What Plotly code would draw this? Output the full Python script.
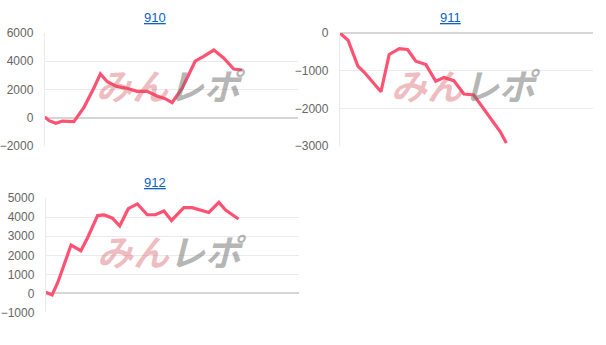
import plotly.graph_objects as go

# ---- data ----
titles = ["910", "911", "912"]

games_910 = [0, 140, 350, 560, 920, 1240, 1550, 1760, 1980, 2290, 2600, 2920, 3240, 3550,
             3810, 4030, 4350, 4760, 5030, 5350, 5660, 5980, 6240]
diff_910 = [50, -200, -380, -230, -270, 740, 2090, 3100, 2550, 2200, 2090, 1870, 1870, 1540,
            1350, 1080, 2090, 4000, 4340, 4790, 4230, 3450, 3380]

games_911 = [0, 200, 260, 570, 780, 1300, 1560, 1880, 2140, 2400, 2720, 3030, 3290, 3600,
             3920, 4230, 4760, 5070, 5260]
diff_911 = [0, -150, -195, -880, -1050, -1560, -570, -415, -440, -750, -840, -1280, -1180,
            -1265, -1620, -1645, -2280, -2620, -2920]

games_912 = [0, 200, 380, 800, 1110, 1320, 1640, 1850, 2110, 2340, 2610, 2900, 3210, 3470,
             3740, 3980, 4370, 4630, 5160, 5480, 5690, 6100]
diff_912 = [60, -80, 570, 2540, 2240, 2910, 4090, 4120, 3950, 3540, 4450, 4700, 4130, 4130,
            4330, 3830, 4500, 4500, 4250, 4780, 4380, 3910]

y_ranges = [[-2000, 6000], [-3000, 0], [-1000, 5000]]
y_dticks = [2000, 1000, 1000]
x_range = [0, 8000]

W, H = 606, 345
# plot areas in pixels (left, right, top, bottom)
areas = [(42, 296, 27, 145), (338.5, 593, 27, 145), (43, 297, 199.3, 318.3)]
cells = [(0, 305, 11), (300, 600, 11), (0, 305, 183)]

LINE = "#fe5272"
fig = go.Figure()
series = [(games_910, diff_910), (games_911, diff_911), (games_912, diff_912)]

for i, (gx, gy) in enumerate(series):
    n = "" if i == 0 else str(i + 1)
    fig.add_trace(go.Scatter(x=gx, y=gy, mode="lines", xaxis="x" + n, yaxis="y" + n,
                             line=dict(color=LINE, width=3.2), showlegend=False,
                             hoverinfo="skip"))
    l, r, t, b = areas[i]
    fig.layout["xaxis" + n] = dict(domain=[l / W, r / W], range=x_range, showticklabels=False,
                                   showgrid=False, zeroline=False, showline=False,
                                   anchor="y" + n, fixedrange=True)
    fig.layout["yaxis" + n] = dict(domain=[1 - b / H, 1 - t / H], range=y_ranges[i],
                                   dtick=y_dticks[i], tick0=0, anchor="x" + n,
                                   gridcolor="#ebebeb", gridwidth=1,
                                   zeroline=True, zerolinecolor="#d6d6d6", zerolinewidth=2,
                                   showline=True, linecolor="#ebebeb", linewidth=1,
                                   ticks="", ticklabelstandoff=8,
                                   tickfont=dict(family="Liberation Sans, Arial", size=12,
                                                 color="#666666"),
                                   fixedrange=True)
    cl, cr, cy = cells[i]
    fig.add_annotation(text="<u>%s</u>" % titles[i], xref="paper", yref="paper",
                       x=(cl + cr) / 2 / W, y=1 - cy / H, showarrow=False,
                       xanchor="center", yanchor="middle",
                       font=dict(family="Liberation Sans, Arial", size=13, color="#0b62c4"))
    # watermark
    fig.add_annotation(
        text="<b><i><span style='color:rgba(214,80,90,0.38)'>みん</span>"
             "<span style='color:rgba(110,110,110,0.5)'>レポ</span></i></b>",
        xref=("x" + n + " domain"), yref=("y" + n + " domain"), x=0.5, y=0.55,
        showarrow=False, xanchor="center", yanchor="middle",
        font=dict(family="Noto Sans CJK JP", size=36, weight=900))

fig.update_layout(width=W, height=H, margin=dict(l=0, r=0, t=0, b=0),
                  paper_bgcolor="white", plot_bgcolor="white")
fig.write_html("out.html")
